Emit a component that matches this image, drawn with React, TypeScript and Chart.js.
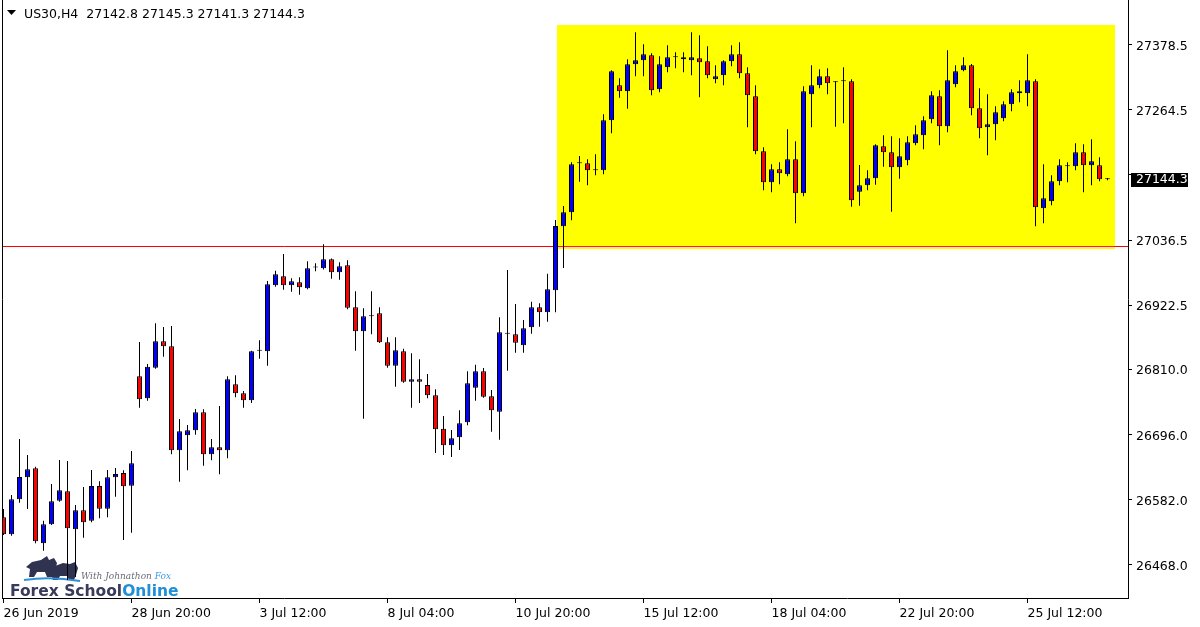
import React, { useEffect, useRef } from "react";
import { Chart, registerables } from "chart.js";

Chart.register(...registerables);

// ---------- data ----------
const symbolTitle = "US30,H4";
const lastQuote = [27142.8, 27145.3, 27141.3, 27144.3];

const opens = [
  26550.5, 26520.7, 26582.0, 26620.6, 26636.4, 26504.9, 26538.2, 26579.6, 26596.0, 26529.5,
  26562.7, 26544.5, 26605.3, 26565.6, 26620.6, 26628.1, 26605.9, 26797.6, 26759.1, 26812.7,
  26859.0, 26850.2, 26667.9, 26694.2, 26703.0, 26734.5, 26660.9, 26673.2, 26667.9, 26783.6,
  26767.8, 26755.6, 26842.5, 26841.4, 26957.1, 26972.9, 26957.1, 26962.4, 26951.9, 26988.3,
  26986.9, 27002.7, 26979.9, 26992.2, 26918.6, 26876.5, 26902.8, 26908.0, 26857.2, 26816.2,
  26841.4, 26788.2, 26792.4, 26782.4, 26764.3, 26705.8, 26676.7, 26690.7, 26717.0, 26777.6,
  26806.4, 26762.6, 26735.6, 26872.1, 26871.2, 26852.0, 26883.5, 26918.6, 26909.8, 26948.4,
  27060.5, 27085.1, 27171.0, 27171.0, 27158.7, 27158.7, 27246.3, 27307.7, 27297.2, 27344.5,
  27351.5, 27360.3, 27300.7, 27339.2, 27356.8, 27356.8, 27351.5, 27355.0, 27349.8, 27318.2,
  27325.2, 27349.8, 27362.0, 27328.7, 27288.4, 27192.0, 27137.7, 27160.5, 27151.7, 27178.0,
  27118.4, 27291.9, 27307.7, 27323.5, 27312.9, 27314.7, 27314.7, 27121.2, 27132.4, 27144.7,
  27200.8, 27190.3, 27163.9, 27176.2, 27206.0, 27220.0, 27248.1, 27288.4, 27235.8, 27309.4,
  27334.0, 27342.7, 27267.4, 27234.1, 27239.3, 27249.8, 27274.4, 27297.2, 27293.7, 27314.7,
  27092.1, 27104.4, 27139.4, 27165.7, 27165.7, 27190.3, 27167.5, 27167.5, 27142.8,
];
const highs = [
  26565.0, 26589.6, 26687.7, 26659.7, 26639.2, 26544.5, 26608.8, 26650.9, 26649.2, 26572.0,
  26603.6, 26633.4, 26613.6, 26633.4, 26636.9, 26632.9, 26666.7, 26857.7, 26819.2, 26890.5,
  26884.0, 26885.8, 26722.8, 26712.3, 26740.3, 26739.8, 26687.7, 26745.6, 26797.6, 26799.4,
  26771.9, 26842.5, 26860.7, 26964.7, 26982.7, 27012.0, 26969.4, 26971.1, 26999.2, 26995.7,
  27029.0, 27004.0, 26997.4, 27000.9, 26946.6, 26916.8, 26946.6, 26918.6, 26866.0, 26866.0,
  26846.0, 26837.9, 26827.4, 26801.7, 26774.8, 26728.0, 26703.5, 26738.0, 26806.4, 26818.0,
  26812.2, 26773.6, 26901.0, 26983.9, 26924.3, 26896.3, 26928.4, 26925.6, 26977.5, 27071.6,
  27096.1, 27172.7, 27183.8, 27178.0, 27186.7, 27256.9, 27334.0, 27320.0, 27353.3, 27400.6,
  27379.6, 27363.8, 27358.5, 27377.8, 27365.5, 27365.5, 27400.6, 27395.3, 27376.0, 27342.7,
  27351.5, 27377.8, 27383.1, 27339.2, 27307.7, 27199.0, 27169.2, 27172.7, 27230.6, 27209.5,
  27305.9, 27342.7, 27335.7, 27337.5, 27314.7, 27339.2, 27318.2, 27168.0, 27158.7, 27204.3,
  27220.0, 27218.3, 27214.8, 27218.3, 27237.6, 27253.4, 27297.2, 27298.9, 27369.0, 27342.7,
  27356.8, 27345.0, 27302.4, 27291.9, 27270.9, 27279.6, 27300.7, 27316.5, 27362.0, 27318.2,
  27169.2, 27149.9, 27178.0, 27172.7, 27206.0, 27204.3, 27213.0, 27181.5, 27145.3,
];
const lows = [
  26519.5, 26518.2, 26576.1, 26565.0, 26504.9, 26491.9, 26537.0, 26577.8, 26440.6, 26445.8,
  26514.7, 26541.7, 26548.7, 26550.5, 26586.6, 26510.7, 26523.5, 26742.6, 26754.9, 26810.9,
  26832.0, 26660.9, 26612.9, 26632.9, 26695.3, 26640.9, 26650.4, 26625.9, 26653.9, 26760.8,
  26742.6, 26750.8, 26828.5, 26816.2, 26954.7, 26949.4, 26945.9, 26940.7, 26950.1, 26981.7,
  26985.0, 26968.7, 26966.9, 26915.1, 26842.5, 26723.3, 26871.2, 26856.0, 26812.7, 26779.4,
  26786.4, 26742.6, 26750.8, 26759.1, 26663.2, 26659.7, 26656.2, 26668.4, 26711.7, 26754.9,
  26760.1, 26700.5, 26686.5, 26807.4, 26839.0, 26839.0, 26872.3, 26884.6, 26893.3, 26909.8,
  26987.4, 27071.1, 27138.7, 27132.4, 27149.9, 27151.7, 27223.6, 27286.0, 27266.7, 27323.5,
  27323.5, 27290.2, 27295.4, 27330.5, 27337.5, 27330.5, 27325.2, 27286.7, 27320.0, 27311.2,
  27307.7, 27341.0, 27320.0, 27234.1, 27186.7, 27123.6, 27120.1, 27134.2, 27148.2, 27065.8,
  27113.1, 27234.1, 27302.4, 27291.9, 27235.1, 27241.1, 27094.9, 27096.7, 27123.6, 27133.5,
  27165.0, 27086.1, 27144.0, 27167.5, 27202.5, 27195.5, 27241.1, 27202.5, 27225.3, 27304.2,
  27332.2, 27255.1, 27214.8, 27185.0, 27211.3, 27244.6, 27262.1, 27277.9, 27270.9, 27060.5,
  27065.8, 27097.4, 27132.4, 27137.7, 27158.7, 27120.1, 27132.4, 27139.4, 27141.3,
];
const closes = [
  26520.7, 26582.0, 26621.1, 26634.6, 26508.4, 26538.2, 26578.5, 26597.8, 26531.2, 26562.7,
  26541.7, 26605.3, 26565.6, 26620.6, 26626.4, 26604.8, 26645.1, 26757.3, 26814.5, 26859.0,
  26850.2, 26667.9, 26701.2, 26703.0, 26734.5, 26660.9, 26673.2, 26667.9, 26792.4, 26767.8,
  26755.6, 26841.4, 26842.5, 26958.9, 26976.4, 26957.1, 26964.1, 26953.6, 26986.9, 26988.3,
  27002.7, 26979.9, 26990.4, 26917.9, 26876.5, 26902.8, 26902.8, 26857.2, 26816.2, 26843.2,
  26788.2, 26792.4, 26788.2, 26764.3, 26704.7, 26676.7, 26688.9, 26715.2, 26785.3, 26806.4,
  26761.9, 26738.0, 26874.7, 26872.1, 26856.5, 26881.8, 26918.6, 26909.8, 26950.1, 27061.1,
  27085.1, 27169.2, 27171.0, 27158.7, 27160.5, 27246.3, 27332.2, 27297.2, 27344.5, 27351.5,
  27362.0, 27298.9, 27344.5, 27356.8, 27356.8, 27353.3, 27356.8, 27348.0, 27325.2, 27323.5,
  27349.8, 27362.0, 27328.7, 27290.2, 27192.0, 27137.7, 27160.5, 27153.4, 27178.0, 27118.4,
  27297.2, 27307.7, 27323.5, 27311.2, 27312.9, 27314.7, 27106.1, 27132.4, 27144.7, 27202.5,
  27190.3, 27163.9, 27183.2, 27207.8, 27221.8, 27246.3, 27290.2, 27235.8, 27316.5, 27332.2,
  27342.7, 27267.4, 27232.3, 27239.3, 27260.4, 27274.4, 27295.4, 27293.7, 27316.5, 27093.8,
  27109.6, 27139.4, 27167.5, 27165.7, 27190.3, 27167.5, 27174.5, 27142.9, 27144.3,
];

const xTickIndex = [0, 16, 32, 48, 64, 80, 96, 112, 128];
const xTickLabels = [
  "26 Jun 2019", "28 Jun 20:00", "3 Jul 12:00", "8 Jul 04:00", "10 Jul 20:00",
  "15 Jul 12:00", "18 Jul 04:00", "22 Jul 20:00", "25 Jul 12:00",
];
const yTickValues = [27378.5, 27264.5, 27150.5, 27036.5, 26922.5, 26810.0, 26696.0, 26582.0, 26468.0];

// zone rectangle (bar index / price coordinates) and horizontal level
const zoneFromIndex = 69.2;
const zoneToIndex = 138.9;
const zoneTop = 27413.0;
const zoneBottom = 27020.0;
const levelPrice = 27025.5;

// visible window
const xMin = -0.0625;
const xMax = 140.5625;
const yMin = 26409.0;
const yMax = 27457.2;

const BULL = "#0000ff";
const BEAR = "#ff0000";
const FONT = '"DejaVu Sans", Verdana, sans-serif';

function drawLogo(ctx: CanvasRenderingContext2D) {
  ctx.save();
  // bulls silhouette
  ctx.fillStyle = "#2f3350";
  ctx.beginPath();
  ctx.moveTo(26, 567);
  ctx.lineTo(32, 562);
  ctx.lineTo(41, 560);
  ctx.lineTo(47, 556);
  ctx.lineTo(49, 560);
  ctx.lineTo(54, 558);
  ctx.lineTo(57, 563);
  ctx.lineTo(55, 571);
  ctx.lineTo(52, 577);
  ctx.lineTo(47, 577);
  ctx.lineTo(45, 572);
  ctx.lineTo(37, 572);
  ctx.lineTo(34, 577);
  ctx.lineTo(29, 577);
  ctx.lineTo(30, 569);
  ctx.closePath();
  ctx.fill();
  ctx.beginPath();
  ctx.moveTo(51, 574);
  ctx.lineTo(55, 566);
  ctx.lineTo(63, 563);
  ctx.lineTo(70, 564);
  ctx.lineTo(75, 562);
  ctx.lineTo(78, 568);
  ctx.lineTo(76, 575);
  ctx.lineTo(74, 580);
  ctx.lineTo(69, 580);
  ctx.lineTo(67, 576);
  ctx.lineTo(60, 576);
  ctx.lineTo(58, 580);
  ctx.lineTo(53, 580);
  ctx.closePath();
  ctx.fill();
  // water line
  ctx.strokeStyle = "#2f8fd8";
  ctx.lineWidth = 2;
  ctx.beginPath();
  ctx.moveTo(24, 580);
  ctx.quadraticCurveTo(50, 576, 80, 581);
  ctx.stroke();
  // tagline
  ctx.textBaseline = "alphabetic";
  ctx.textAlign = "left";
  ctx.font = 'italic 9px "DejaVu Serif", serif';
  ctx.fillStyle = "#6a6a78";
  const tag = "With Johnathon ";
  ctx.fillText(tag, 81, 579);
  const tw = ctx.measureText(tag).width;
  ctx.fillStyle = "#3a9be0";
  ctx.fillText("Fox", 81 + tw, 579);
  // brand
  ctx.font = 'bold 15.5px "DejaVu Sans", sans-serif';
  ctx.fillStyle = "#383b5a";
  const b1 = "Forex School";
  ctx.fillText(b1, 10, 596);
  const w1 = ctx.measureText(b1).width;
  ctx.fillStyle = "#1f8fd8";
  ctx.fillText("Online", 10 + w1, 596);
  ctx.restore();
}

const overlayPlugin = {
  id: "mtOverlay",
  beforeDatasetsDraw(chart: any) {
    const { ctx, chartArea: a, scales } = chart;
    const x = scales.x;
    const y = scales.y;
    ctx.save();
    const zx1 = Math.round(x.getPixelForValue(zoneFromIndex));
    const zx2 = Math.round(x.getPixelForValue(zoneToIndex));
    const zy1 = Math.round(y.getPixelForValue(zoneTop));
    const zy2 = Math.round(y.getPixelForValue(zoneBottom));
    ctx.fillStyle = "#ffff00";
    ctx.fillRect(zx1, zy1, zx2 - zx1, zy2 - zy1);
    const ly = Math.round(y.getPixelForValue(levelPrice)) + 0.5;
    ctx.lineWidth = 1;
    ctx.strokeStyle = "#ff0000";
    ctx.beginPath();
    ctx.moveTo(a.left, ly);
    ctx.lineTo(a.right, ly);
    ctx.stroke();
    ctx.strokeStyle = "#ff00c8";
    ctx.beginPath();
    ctx.moveTo(zx1, ly);
    ctx.lineTo(zx2, ly);
    ctx.stroke();
    drawLogo(ctx);
    ctx.restore();
  },
  afterDraw(chart: any) {
    const { ctx, chartArea: a, scales } = chart;
    const y = scales.y;
    ctx.save();
    // left frame
    ctx.strokeStyle = "#000";
    ctx.lineWidth = 1;
    ctx.beginPath();
    ctx.moveTo(a.left - 0.5, 0);
    ctx.lineTo(a.left - 0.5, a.bottom + 1);
    ctx.stroke();
    // header
    ctx.fillStyle = "#000";
    ctx.beginPath();
    ctx.moveTo(7, 10);
    ctx.lineTo(16, 10);
    ctx.lineTo(11.5, 15);
    ctx.closePath();
    ctx.fill();
    ctx.font = `12.5px ${FONT}`;
    ctx.textBaseline = "alphabetic";
    ctx.textAlign = "left";
    const head = `${symbolTitle}  ${lastQuote.map((v) => v.toFixed(1)).join(" ")}`;
    ctx.fillText(head, 24, 18);
    // current price label
    const price = closes[closes.length - 1];
    const py = Math.round(y.getPixelForValue(price));
    ctx.fillStyle = "#000";
    ctx.fillRect(a.right + 3, py - 6, 57, 14);
    ctx.fillStyle = "#fff";
    ctx.textBaseline = "middle";
    ctx.fillText(price.toFixed(1), a.right + 8, py + 1);
    ctx.restore();
  },
};

export default function App() {
  const ref = useRef<HTMLCanvasElement>(null);
  useEffect(() => {
    const canvas = ref.current;
    if (!canvas) return;
    const idx = closes.map((_, i) => i);
    const bodyData = idx.map((i) => ({
      x: i,
      y: [Math.min(opens[i], closes[i]), Math.max(opens[i], closes[i])],
    }));
    const wickData = idx.map((i) => ({ x: i, y: [lows[i], highs[i]] }));
    const bodyColors = idx.map((i) =>
      closes[i] > opens[i] ? BULL : closes[i] < opens[i] ? BEAR : "#000000"
    );
    const lastPrice = closes[closes.length - 1];

    Chart.defaults.font.family = FONT;
    Chart.defaults.font.size = 12.5;
    Chart.defaults.color = "#000";

    const chart = new Chart(canvas, {
      type: "bar",
      data: {
        datasets: [
          {
            label: "body",
            data: bodyData as any,
            backgroundColor: bodyColors,
            borderColor: "#000000",
            borderWidth: 1,
            borderSkipped: false,
            barThickness: 5,
            minBarLength: 1,
            grouped: false,
            inflateAmount: 0,
            order: 0,
          } as any,
          {
            label: "wick",
            data: wickData as any,
            backgroundColor: "#000000",
            borderWidth: 0,
            barThickness: 1,
            minBarLength: 1,
            grouped: false,
            inflateAmount: 0,
            order: 1,
          } as any,
        ],
      },
      options: {
        animation: false,
        responsive: false,
        devicePixelRatio: 1,
        layout: { padding: { left: 3, top: 0, right: 0, bottom: 0 } },
        plugins: { legend: { display: false }, tooltip: { enabled: false } },
        scales: {
          x: {
            type: "linear",
            min: xMin,
            max: xMax,
            offset: false,
            grid: {
              display: true,
              offset: false,
              drawOnChartArea: false,
              drawTicks: true,
              tickLength: 5,
              color: "#000",
            },
            border: { display: true, color: "#000", width: 1 },
            ticks: {
              autoSkip: false,
              maxRotation: 0,
              minRotation: 0,
              align: "start",
              padding: 3,
              color: "#000",
              font: { family: FONT, size: 12.5 },
              callback: (v: any) => {
                const k = xTickIndex.indexOf(Number(v));
                return k >= 0 ? xTickLabels[k] : "";
              },
            },
            afterBuildTicks: (s: any) => {
              s.ticks = xTickIndex.map((v) => ({ value: v }));
            },
            afterFit: (s: any) => {
              s.height = 29;
              s.paddingLeft = 0;
              s.paddingRight = 0;
            },
          },
          y: {
            type: "linear",
            position: "right",
            min: yMin,
            max: yMax,
            grid: {
              display: true,
              drawOnChartArea: false,
              drawTicks: true,
              tickLength: 4,
              color: "#000",
            },
            border: { display: true, color: "#000", width: 1 },
            ticks: {
              autoSkip: false,
              padding: 4,
              labelOffset: 2,
              color: "#000",
              font: { family: FONT, size: 12.5 },
              // labels hidden where the current-price box covers them
              callback: (v: any) =>
                Math.abs(Number(v) - lastPrice) < 15 ? "" : Number(v).toFixed(1),
            },
            afterBuildTicks: (s: any) => {
              s.ticks = yTickValues.map((v) => ({ value: v }));
            },
            afterFit: (s: any) => {
              s.width = 72;
              s.paddingTop = 0;
              s.paddingBottom = 0;
            },
          },
        },
      } as any,
      plugins: [overlayPlugin],
    });
    return () => chart.destroy();
  }, []);

  return (
    <div style={{ position: "fixed", left: 0, top: 0, width: 1200, height: 627, background: "#fff" }}>
      <canvas ref={ref} width={1200} height={627} style={{ display: "block" }} />
    </div>
  );
}
